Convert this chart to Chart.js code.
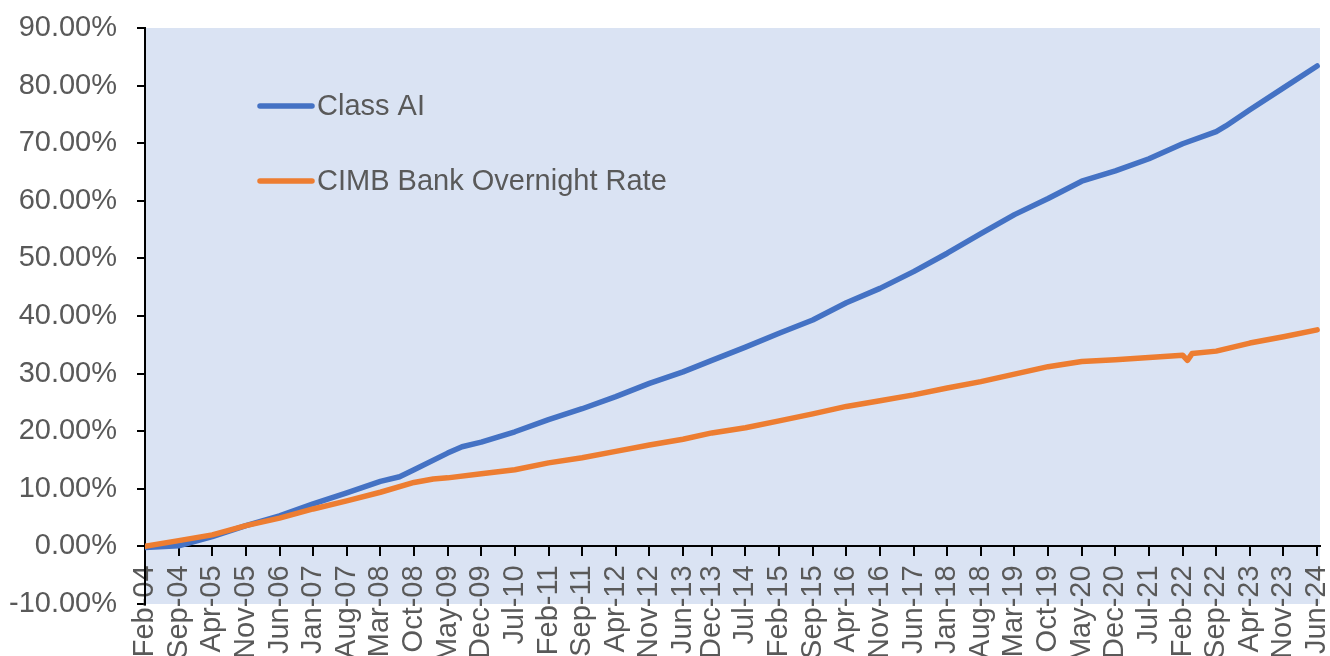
<!DOCTYPE html>
<html>
<head>
<meta charset="utf-8">
<script src="https://cdn.jsdelivr.net/npm/chart.js@4.4.1/dist/chart.umd.min.js"></script>
<style>
  html, body { margin: 0; padding: 0; background: #fff; overflow: hidden; }
  #wrap { width: 1330px; height: 656px; position: relative; }
</style>
</head>
<body>
<div id="wrap"><canvas id="returnsChart"></canvas></div>
<script>
// axis labels (as printed under the chart)
const tickLabels = [
  "Feb-04", "Sep-04", "Apr-05", "Nov-05", "Jun-06", "Jan-07", "Aug-07", "Mar-08", "Oct-08",
  "May-09", "Dec-09", "Jul-10", "Feb-11", "Sep-11", "Apr-12", "Nov-12", "Jun-13", "Dec-13",
  "Jul-14", "Feb-15", "Sep-15", "Apr-16", "Nov-16", "Jun-17", "Jan-18", "Aug-18", "Mar-19",
  "Oct-19", "May-20", "Dec-20", "Jul-21", "Feb-22", "Sep-22", "Apr-23", "Nov-23", "Jun-24"
];

// cumulative return, %
const classAiDates = [
  "Feb-04", "Sep-04", "Apr-05", "Nov-05", "Jun-06", "Jan-07", "Aug-07", "Mar-08", "Jul-08", "Oct-08",
  "May-09", "Aug-09", "Dec-09", "Jul-10", "Feb-11", "Sep-11", "Apr-12", "Nov-12", "Jun-13", "Dec-13",
  "Jul-14", "Feb-15", "Sep-15", "Apr-16", "Nov-16", "Jun-17", "Jan-18", "Aug-18", "Mar-19",
  "Oct-19", "May-20", "Dec-20", "Jul-21", "Feb-22", "Sep-22", "Nov-22", "Apr-23", "Nov-23", "Jun-24"
];
const classAiValues = [
  -0.2, 0.1, 1.7, 3.6, 5.3, 7.4, 9.3, 11.3, 12.1, 13.3,
  16.2, 17.3, 18.1, 19.9, 22.0, 23.9, 26.0, 28.3, 30.3, 32.3,
  34.6, 37.0, 39.3, 42.3, 44.8, 47.7, 50.9, 54.3, 57.6,
  60.4, 63.4, 65.2, 67.3, 69.9, 72.0, 73.0, 75.8, 79.6, 83.4
];

const cimbDates = [
  "Feb-04", "Sep-04", "Apr-05", "Nov-05", "Jun-06", "Jan-07", "Aug-07", "Mar-08", "Oct-08", "Feb-09",
  "May-09", "Dec-09", "Jul-10", "Feb-11", "Sep-11", "Apr-12", "Nov-12", "Jun-13", "Dec-13",
  "Jul-14", "Feb-15", "Sep-15", "Apr-16", "Nov-16", "Jun-17", "Jan-18", "Aug-18", "Mar-19",
  "Oct-19", "May-20", "Dec-20", "Jul-21", "Feb-22", "Mar-22", "Apr-22", "Sep-22", "Apr-23", "Nov-23", "Jun-24"
];
const cimbValues = [
  0.0, 1.0, 2.0, 3.6, 4.9, 6.5, 7.9, 9.4, 11.1, 11.7,
  11.9, 12.6, 13.3, 14.5, 15.4, 16.5, 17.6, 18.6, 19.7,
  20.6, 21.8, 23.0, 24.3, 25.3, 26.3, 27.5, 28.6, 29.9,
  31.2, 32.1, 32.4, 32.8, 33.2, 32.3, 33.5, 33.9, 35.3, 36.4, 37.6
];

const MONTHS = ["Jan", "Feb", "Mar", "Apr", "May", "Jun", "Jul", "Aug", "Sep", "Oct", "Nov", "Dec"];
// months since Feb-04
function monthIndex(label) {
  const [m, yy] = label.split("-");
  return (Number(yy) + 2000 - 2004) * 12 + MONTHS.indexOf(m) - 1;
}
function toPoints(dates, values) {
  return dates.map((d, i) => ({ x: monthIndex(d), y: values[i] }));
}

const FONT = "'Liberation Sans', Arial, sans-serif";
const TEXT = "#595959";

const plotBackground = {
  id: "plotBackground",
  beforeDraw(chart) {
    const { ctx, chartArea: a } = chart;
    ctx.save();
    ctx.fillStyle = "#DAE3F3";
    ctx.fillRect(a.left, a.top, a.right - a.left, a.bottom - a.top);
    ctx.restore();
  }
};

const insideLegend = {
  id: "insideLegend",
  afterDraw(chart) {
    const { ctx, chartArea: a } = chart;
    ctx.save();
    ctx.font = "29px " + FONT;
    ctx.textBaseline = "middle";
    ctx.lineCap = "round";
    chart.data.datasets.forEach((ds, i) => {
      const y = a.top + 78 + i * 75;
      ctx.strokeStyle = ds.borderColor;
      ctx.lineWidth = 5.5;
      ctx.beginPath();
      ctx.moveTo(a.left + 115, y);
      ctx.lineTo(a.left + 167, y);
      ctx.stroke();
      ctx.fillStyle = TEXT;
      ctx.fillText(ds.label, a.left + 172, y + 1);
    });
    ctx.restore();
  }
};

const ctx = document.getElementById("returnsChart").getContext("2d");
new Chart(ctx, {
  type: "line",
  data: {
    datasets: [
      {
        label: "Class AI",
        data: toPoints(classAiDates, classAiValues),
        borderColor: "#4472C4",
        order: 1
      },
      {
        label: "CIMB Bank Overnight Rate",
        data: toPoints(cimbDates, cimbValues),
        borderColor: "#ED7D31",
        order: 0
      }
    ]
  },
  options: {
    responsive: true,
    maintainAspectRatio: false,
    animation: false,
    layout: { padding: { top: 28, right: 10, bottom: 52, left: 0 } },
    elements: {
      point: { radius: 0 },
      line: { borderWidth: 5.5, tension: 0, borderCapStyle: "round", borderJoinStyle: "round", fill: false }
    },
    plugins: { legend: { display: false }, tooltip: { enabled: false } },
    scales: {
      x: {
        type: "linear",
        position: { y: 0 },
        min: 0,
        max: 244.6,
        afterBuildTicks: (s) => { s.ticks = tickLabels.map(l => ({ value: monthIndex(l) })); },
        afterFit: (s) => { s.height = 0; s.paddingLeft = 0; s.paddingRight = 0; },
        grid: { drawOnChartArea: false, drawTicks: true, tickLength: 9, color: "#000", lineWidth: 2 },
        border: { display: true, color: "#000", width: 2 },
        ticks: {
          autoSkip: false,
          minRotation: 90,
          maxRotation: 90,
          padding: 10,
          color: TEXT,
          font: { family: FONT, size: 29 },
          callback: (v, i) => tickLabels[i]
        }
      },
      y: {
        min: -10,
        max: 90,
        afterFit: (s) => { s.width = 145; s.paddingTop = 0; s.paddingBottom = 0; },
        grid: { drawOnChartArea: false, drawTicks: true, tickLength: 8, color: "#000", lineWidth: 2 },
        border: { display: true, color: "#000", width: 2 },
        ticks: {
          stepSize: 10,
          padding: 20,
          color: TEXT,
          font: { family: FONT, size: 29 },
          callback: (v) => v.toFixed(2) + "%"
        }
      }
    }
  },
  plugins: [plotBackground, insideLegend]
});
</script>
</body>
</html>
